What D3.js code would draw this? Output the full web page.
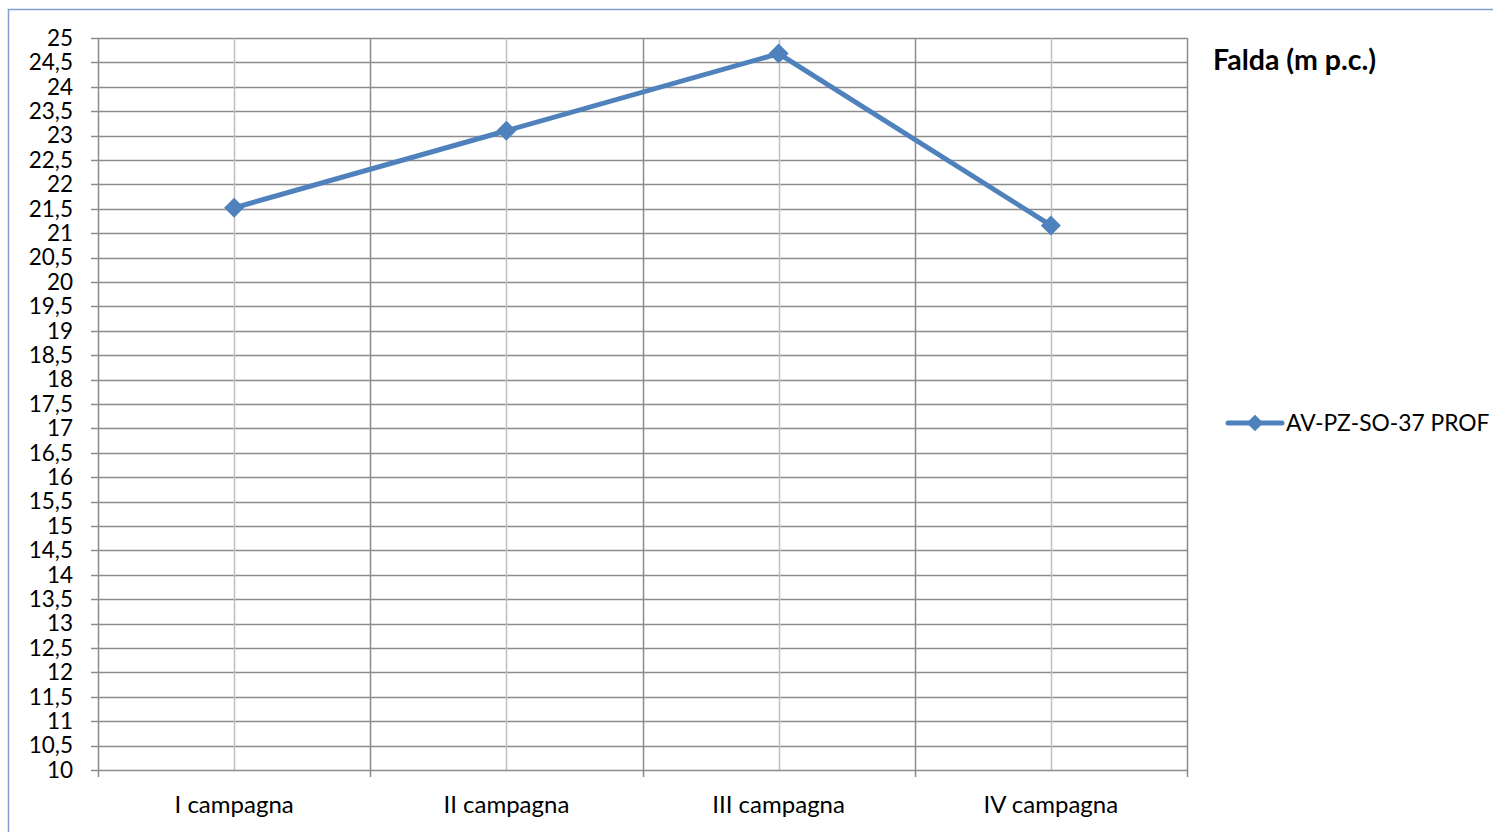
<!DOCTYPE html>
<html>
<head>
<meta charset="utf-8">
<script src="https://cdn.jsdelivr.net/npm/d3@7"></script>
<style>
  body { margin: 0; background: #fff; }
  svg { display: block; font-family: Lato, "Open Sans", sans-serif; }
</style>
</head>
<body>
<svg id="chart" width="1493" height="832"></svg>
<script>
// Chart data.
const categories = ['I campagna', 'II campagna', 'III campagna', 'IV campagna'];
const seriesName = 'AV-PZ-SO-37 PROF';
const seriesValues = [21.52, 23.1, 24.68, 21.16];
const yTicks = d3.range(10, 25.001, 0.5);
const title = 'Falda (m p.c.)';

const LINE_COLOR = '#4f81bd';
const margin = {left: 98, right: 1187, top: 38, bottom: 770};

const svg = d3.select('#chart');

// Chart outline (only top and left edges visible).
svg.append('path')
    .attr('d', 'M 8.5 832 L 8.5 9.5 L 1493 9.5')
    .attr('fill', 'none')
    .attr('stroke', '#7f9fd3')
    .attr('stroke-width', 1.5);

const x = d3.scaleBand()
    .domain(categories)
    .range([margin.left, margin.right]);

const y = d3.scaleLinear()
    .domain([10, 25])
    .range([margin.bottom, margin.top]);

const fmt = v => String(v).replace('.', ',');

// Horizontal gridlines with small ticks to the left.
svg.append('g')
    .selectAll('line')
    .data(yTicks)
    .join('line')
    .attr('x1', margin.left - 7)
    .attr('x2', margin.right)
    .attr('y1', d => Math.round(y(d)) + 0.5)
    .attr('y2', d => Math.round(y(d)) + 0.5)
    .attr('stroke', '#8c8c8c')
    .attr('stroke-width', 1.5);

// Vertical gridlines at category centres (lighter).
svg.append('g')
    .selectAll('line')
    .data(categories)
    .join('line')
    .attr('x1', d => Math.round(x(d) + x.bandwidth() / 2) + 0.5)
    .attr('x2', d => Math.round(x(d) + x.bandwidth() / 2) + 0.5)
    .attr('y1', margin.top)
    .attr('y2', margin.bottom)
    .attr('stroke', '#bfbfbf')
    .attr('stroke-width', 1.5);

// Vertical gridlines at category boundaries, with ticks below axis.
const bounds = categories.map(c => x(c)).concat([margin.right]);
svg.append('g')
    .selectAll('line')
    .data(bounds)
    .join('line')
    .attr('x1', d => Math.round(d) + 0.5)
    .attr('x2', d => Math.round(d) + 0.5)
    .attr('y1', margin.top)
    .attr('y2', margin.bottom + 7)
    .attr('stroke', '#8c8c8c')
    .attr('stroke-width', 1.5);

// Y tick labels.
svg.append('g')
    .selectAll('text')
    .data(yTicks)
    .join('text')
    .attr('x', 73)
    .attr('y', d => y(d))
    .attr('dy', '0.35em')
    .attr('text-anchor', 'end')
    .attr('font-size', 22.5)
    .attr('fill', '#000')
    .text(d => fmt(d));

// X category labels.
svg.append('g')
    .selectAll('text')
    .data(categories)
    .join('text')
    .attr('x', d => x(d) + x.bandwidth() / 2)
    .attr('y', 813)
    .attr('text-anchor', 'middle')
    .attr('font-size', 24)
    .attr('fill', '#000')
    .text(d => d);

// Series line.
const points = categories.map((c, i) => ({
  x: x(c) + x.bandwidth() / 2,
  y: y(seriesValues[i]),
}));

svg.append('path')
    .datum(points)
    .attr('d', d3.line().x(d => d.x).y(d => d.y))
    .attr('fill', 'none')
    .attr('stroke', LINE_COLOR)
    .attr('stroke-width', 5)
    .attr('stroke-linejoin', 'round');

const diamond = d3.symbol().type(d3.symbolSquare).size(200);
svg.append('g')
    .selectAll('path')
    .data(points)
    .join('path')
    .attr('d', diamond)
    .attr('transform', d => `translate(${d.x},${d.y}) rotate(45)`)
    .attr('fill', LINE_COLOR);

// Title.
svg.append('text')
    .attr('x', 1213)
    .attr('y', 70)
    .attr('font-size', 28.5)
    .attr('font-weight', 'bold')
    .attr('fill', '#000')
    .text(title);

// Legend.
const legend = svg.append('g').attr('transform', 'translate(1228,423)');
legend.append('line')
    .attr('x1', 0)
    .attr('x2', 54)
    .attr('stroke', LINE_COLOR)
    .attr('stroke-width', 5)
    .attr('stroke-linecap', 'round');
legend.append('path')
    .attr('d', d3.symbol().type(d3.symbolSquare).size(140))
    .attr('transform', 'translate(27,0) rotate(45)')
    .attr('fill', LINE_COLOR);
legend.append('text')
    .attr('x', 58)
    .attr('y', 0)
    .attr('dy', '0.35em')
    .attr('font-size', 22.8)
    .attr('fill', '#000')
    .text(seriesName);
</script>
</body>
</html>
